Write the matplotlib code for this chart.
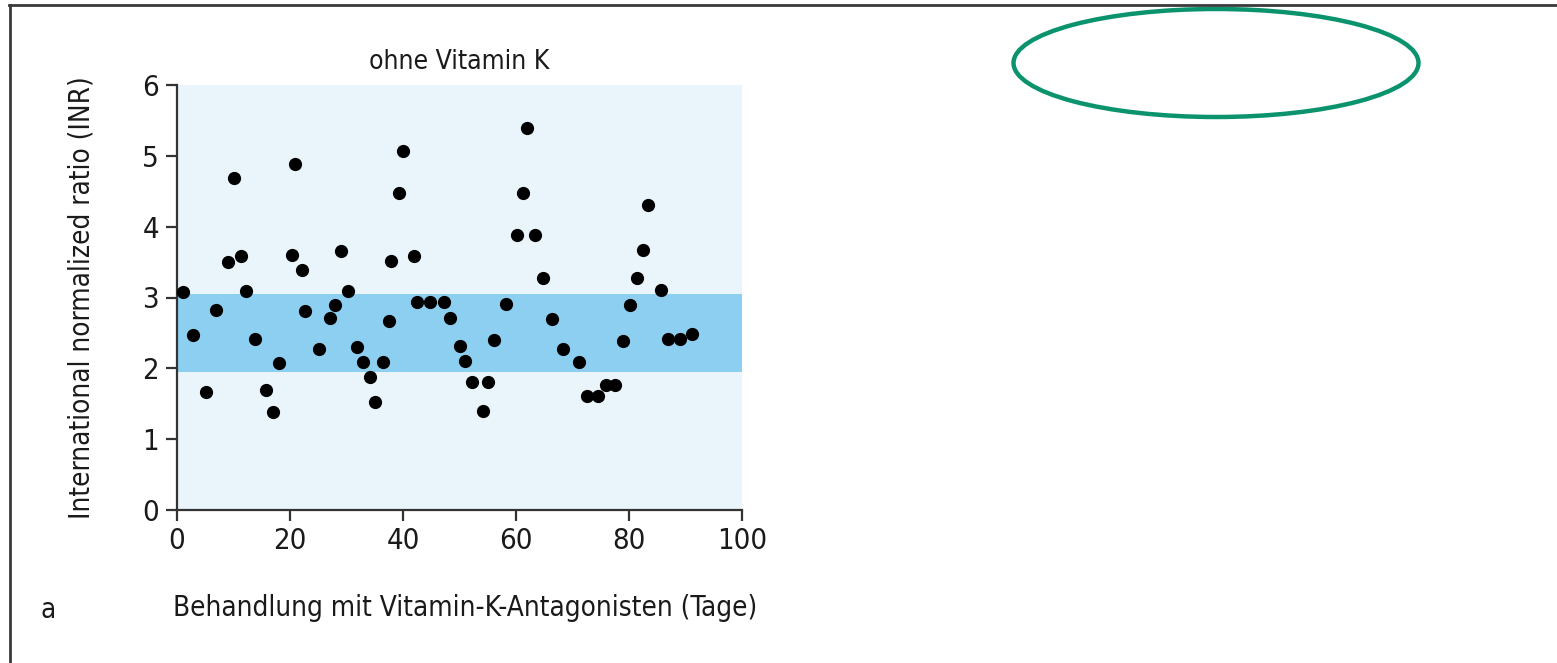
import matplotlib
matplotlib.use("Agg")
import matplotlib.pyplot as plt
from matplotlib import font_manager
from matplotlib.patches import Ellipse
from matplotlib.lines import Line2D

# INR measurements during vitamin-K-antagonist therapy (without vitamin K)
days = [1.1, 2.9, 5.1, 6.9, 9.0, 10.0, 11.3, 12.2, 13.8, 15.7, 17.0, 18.1,
        20.3, 20.9, 22.1, 22.7, 25.2, 27.1, 27.9, 29.1, 30.2, 31.8, 33.0, 34.2,
        35.0, 36.4, 37.5, 37.9, 39.3, 40.0, 41.9, 42.5, 44.8, 47.2, 48.4, 50.0,
        51.0, 52.3, 54.2, 55.0, 56.1, 58.3, 60.1, 61.3, 62.0, 63.3, 64.8, 66.4,
        68.3, 71.2, 72.6, 74.5, 76.0, 77.5, 79.0, 80.2, 81.4, 82.4, 83.4, 85.6,
        86.9, 89.0, 91.1]
inr = [3.08, 2.47, 1.67, 2.82, 3.50, 4.69, 3.59, 3.09, 2.41, 1.69, 1.39, 2.08,
       3.60, 4.89, 3.39, 2.81, 2.28, 2.71, 2.89, 3.66, 3.09, 2.30, 2.09, 1.88,
       1.52, 2.09, 2.67, 3.52, 4.47, 5.07, 3.58, 2.93, 2.93, 2.93, 2.71, 2.32,
       2.11, 1.81, 1.40, 1.81, 2.40, 2.91, 3.88, 4.48, 5.40, 3.88, 3.27, 2.69,
       2.28, 2.09, 1.61, 1.61, 1.77, 1.77, 2.39, 2.89, 3.27, 3.67, 4.30, 3.10,
       2.41, 2.41, 2.48]

# therapeutic target range
target_low, target_high = 1.95, 3.05

x_ticks = [0, 20, 40, 60, 80, 100]
y_ticks = [0, 1, 2, 3, 4, 5, 6]

title = "ohne Vitamin K"
x_label = "Behandlung mit Vitamin-K-Antagonisten (Tage)"
y_label = "International normalized ratio (INR)"
panel = "a"

# pick a narrow sans family if one is available
names = {f.name for f in font_manager.fontManager.ttflist}
if "Liberation Sans Narrow" in names:
    font_kw = dict(family="Liberation Sans Narrow")
else:
    font_kw = dict(family="DejaVu Sans", stretch="condensed")

W, H = 1557, 663
fig = plt.figure(figsize=(W / 100, H / 100), dpi=100)
fig.patch.set_facecolor("white")

ax = fig.add_axes([177 / W, 1 - 510 / H, (742 - 177) / W, (510 - 85) / H])
ax.set_facecolor("#eaf5fb")
ax.set_xlim(0, 100)
ax.set_ylim(0, 6)
ax.axhspan(target_low, target_high, color="#8dcff1", lw=0, zorder=1)
ax.plot(days, inr, "o", color="black", markersize=8.5, zorder=3, clip_on=False)

for side in ("top", "right"):
    ax.spines[side].set_visible(False)
for side in ("left", "bottom"):
    ax.spines[side].set_color("#333333")
    ax.spines[side].set_linewidth(1.6)

ax.set_xticks(x_ticks)
ax.set_yticks(y_ticks)
ax.tick_params(axis="both", direction="out", length=8, width=1.6,
               color="#333333", labelsize=21, labelcolor="#1a1a1a")
ax.tick_params(axis="y", pad=5)
ax.tick_params(axis="x", pad=4)
for lab in ax.get_xticklabels() + ax.get_yticklabels():
    lab.set(**font_kw)

ax.set_xlabel(x_label, fontsize=20, color="#1a1a1a", va="center", **font_kw)
ax.xaxis.set_label_coords((465 - 177) / 565, (510 - 608) / 425)
ax.set_ylabel(y_label, fontsize=20, color="#1a1a1a", va="center", **font_kw)
ax.yaxis.set_label_coords((82 - 177) / 565, 0.5)
ax.text(0.5, (510 - 62) / 425, title, transform=ax.transAxes, ha="center",
        va="center", fontsize=19, color="#1a1a1a", **font_kw)

fig.text(48 / W, 1 - 610 / H, panel, ha="center", va="center", fontsize=20,
         color="#1a1a1a", **font_kw)

# page frame and highlight ring
over = fig.add_axes([0, 0, 1, 1], zorder=5)
over.set_xlim(0, W)
over.set_ylim(H, 0)
over.axis("off")
over.patch.set_alpha(0)
over.add_line(Line2D([9, W], [5, 5], color="#3a3a3a", lw=2))
over.add_line(Line2D([10, 10], [5, H], color="#3a3a3a", lw=2))
over.add_patch(Ellipse((1216, 63), 405, 108, fill=False, ec="#0b936e", lw=3.2))

fig.savefig("out.png", dpi=100)
